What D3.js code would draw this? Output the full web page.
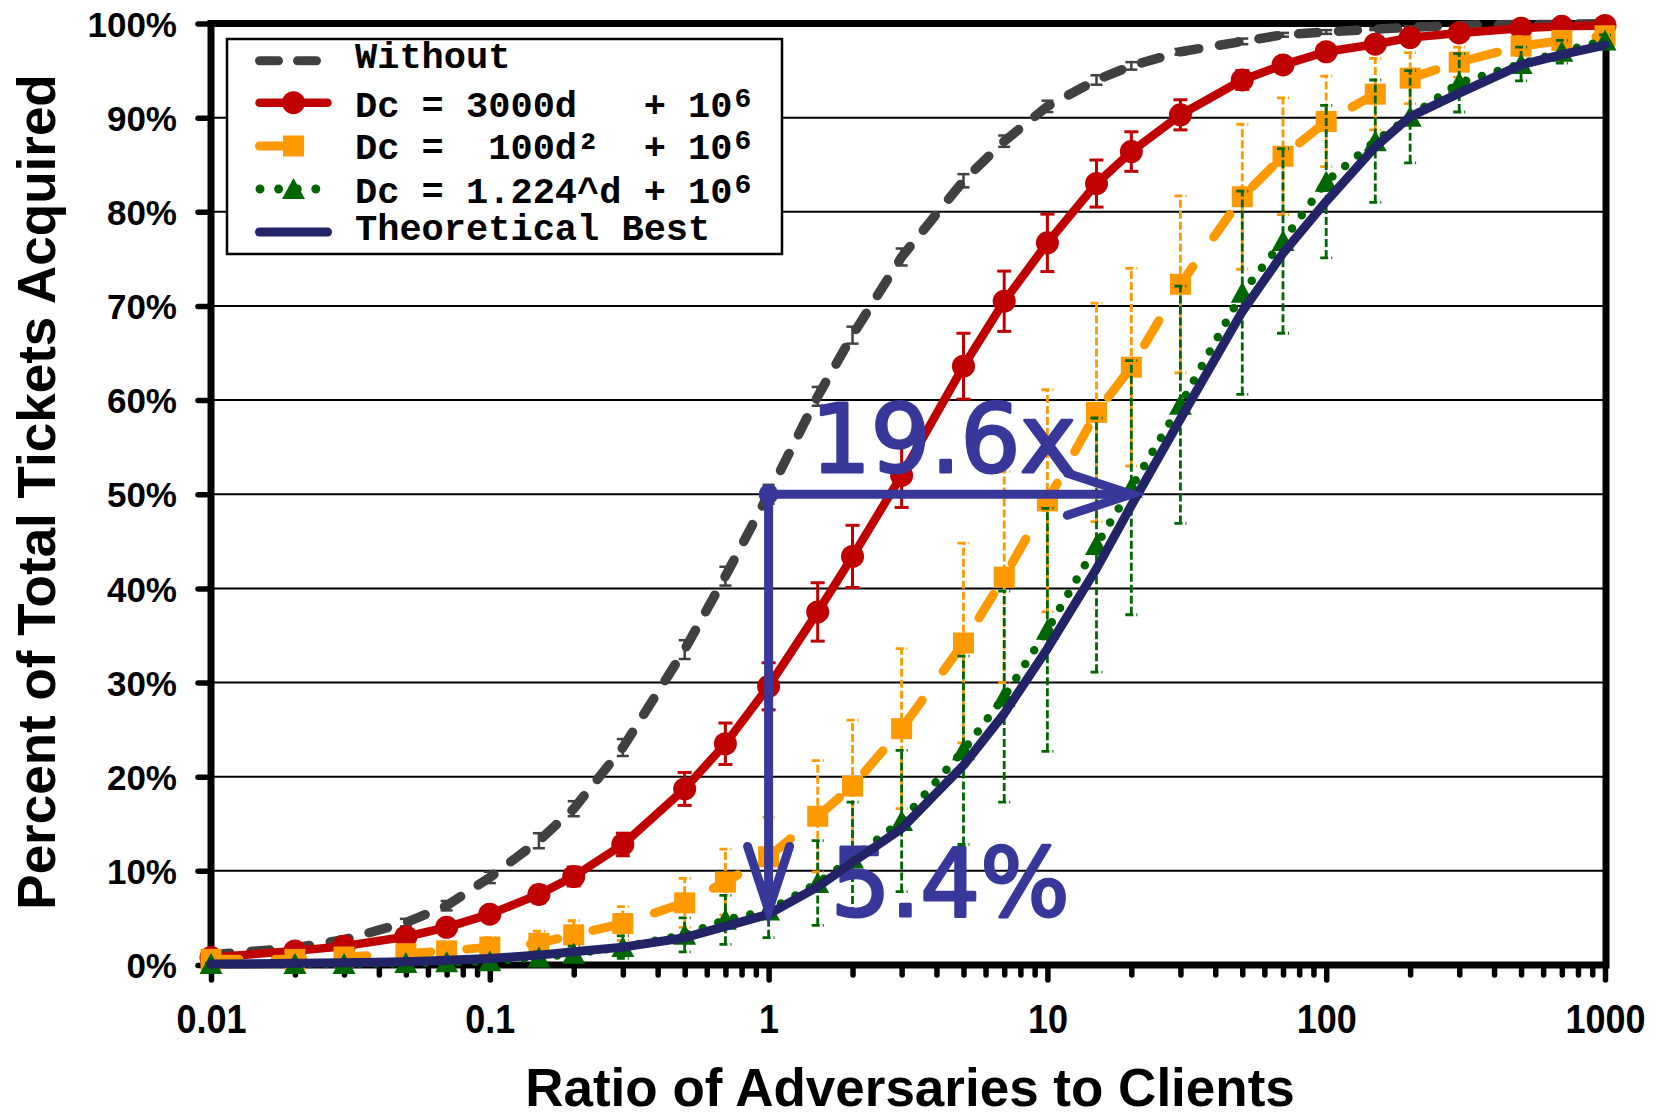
<!DOCTYPE html>
<html><head><meta charset="utf-8">
<script src="https://cdn.jsdelivr.net/npm/d3@7"></script>
<style>body{margin:0;background:#fff}</style>
</head><body>
<svg id="c" width="1658" height="1117" xmlns="http://www.w3.org/2000/svg"></svg>
<script>
// ---------- data ----------
const ratios = [0.01,0.02,0.03,0.05,0.07,0.1,0.15,0.2,0.3,0.5,0.7,1,1.5,2,3,5,7,10,15,20,30,50,70,100,150,200,300,500,700,1000];
const withoutPct = [1.1,1.8,2.7,4.5,6.3,9.3,13.2,16.6,23.1,33.5,41.3,50.0,60.4,66.9,75.2,83.3,87.5,91.2,94.0,95.5,97.0,98.1,98.8,99.1,99.4,99.6,99.8,99.9,99.9,100];
const withoutErr = [0.2,0.3,0.3,0.4,0.5,0.6,0.8,0.8,0.9,1.0,1.0,1.0,1.0,0.9,0.9,0.7,0.6,0.6,0.5,0.4,0.3,0.3,0.2,0.2,0.1,0.1,0.1,0.1,0.1,0.1];
const linearPct = [0.8,1.5,2.0,3.0,4.0,5.4,7.5,9.4,12.8,18.7,23.5,29.6,37.5,43.4,52.0,63.6,70.5,76.7,83.0,86.4,90.3,94.0,95.6,97.0,97.8,98.5,99.0,99.5,99.7,99.8];
const linearErr = [0.2,0.3,0.4,0.5,0.6,0.7,0.9,1.0,1.2,1.75,2.2,2.5,3.1,3.3,3.4,3.5,3.2,3.05,2.5,2.1,1.6,1.0,0.7,0.5,0.4,0.3,0.2,0.1,0.1,0.1];
const quadPct = [0.6,0.6,0.85,1.2,1.5,1.9,2.3,3.2,4.4,6.6,8.8,11.5,15.8,19.0,25.1,34.2,41.2,49.3,58.7,63.5,72.3,81.6,85.9,89.6,92.5,94.2,95.9,97.6,98.2,98.7];
const quadErr = [0.3,0.4,0.5,0.7,0.8,1.0,1.3,1.5,1.8,2.6,3.5,4.2,5.9,7.0,8.5,10.6,11.2,11.8,11.6,10.5,9.4,7.7,6.2,4.8,3.8,2.7,1.6,1.0,0.7,0.5];
const expPct = [0.1,0.1,0.1,0.2,0.3,0.4,0.8,1.2,1.9,3.2,4.8,5.8,8.7,11.3,15.3,22.8,28.5,35.6,44.6,50.7,59.5,71.4,76.9,83.2,87.5,90.1,93.7,95.7,97.0,98.2];
const expErr = [0.1,0.1,0.1,0.2,0.3,0.4,0.6,0.8,1.2,1.8,2.6,2.9,4.5,6.0,7.5,10.0,11.2,12.9,13.5,13.5,12.6,10.8,9.8,8.1,6.5,4.9,3.1,1.8,1.2,0.6];
const bestPct = [0.1,0.18,0.25,0.35,0.5,0.7,1.05,1.4,1.9,2.9,4.1,5.4,8.3,10.9,14.5,21.2,26.7,33.6,42.1,48.8,58.0,69.4,75.6,81.1,86.9,90.1,92.6,95.6,96.7,97.7];

const yTickValues = [0,10,20,30,40,50,60,70,80,90,100];
const xMajorTicks = [0.01,0.1,1,10,100,1000];
const xTickLabels = ["0.01","0.1","1","10","100","1000"];
const legendLabels = [
  ["Without", null],
  ["Dc = 3000d   + 10", "6"],
  ["Dc =  100d\u00B2  + 10", "6"],
  ["Dc = 1.224^d + 10", "6"],
  ["Theoretical Best", null]
];
const annoStart = [1, 50];
const annoHEnd = [20, 50];
const annoVEnd = [1, 5.8];
const annoTexts = [{t:"19.6x", r:1.42, v:52.4}, {t:"5.4%", r:1.67, v:5.2}];

// ---------- styles ----------
const C = {gray:"#404040", red:"#C00000", orange:"#FF9900", green:"#006600", navy:"#232368", anno:"#38389A"};

const svg = d3.select('#c');
const x = d3.scaleLog().domain([0.01,1000]).range([211,1605]);
const y = d3.scaleLinear().domain([0,100]).range([965,23.5]);

// gridlines
svg.append('g').selectAll('line').data(yTickValues.filter(v=>v>0&&v<100)).join('line')
  .attr('x1',x(0.01)).attr('x2',x(1000)).attr('y1',d=>y(d)).attr('y2',d=>y(d))
  .attr('stroke','#000').attr('stroke-width',2);

// y axis ticks + labels
const yAx = svg.append('g').attr('transform',`translate(${x(0.01)},0)`)
  .call(d3.axisLeft(y).tickValues(yTickValues).tickFormat(d=>d+'%').tickSize(13).tickPadding(21));
yAx.select('.domain').remove();
yAx.selectAll('.tick line').attr('stroke','#000').attr('stroke-width',5.5).attr('stroke-linecap','round');
yAx.selectAll('.tick text').attr('fill','#000').attr('font-family','"Liberation Sans", Arial, sans-serif')
  .attr('font-weight','bold').attr('font-size',35).attr('dy','0.36em');

// x axis minor + major ticks
const minor = [];
for (let e=-2;e<3;e++) for (let m=2;m<=9;m++) minor.push(m*Math.pow(10,e));
const xMin = svg.append('g').attr('transform',`translate(0,${y(0)})`)
  .call(d3.axisBottom(x).tickValues(minor).tickFormat('').tickSize(10));
xMin.select('.domain').remove();
xMin.selectAll('.tick line').attr('stroke','#000').attr('stroke-width',5.5).attr('stroke-linecap','round');
const xAx = svg.append('g').attr('transform',`translate(0,${y(0)})`)
  .call(d3.axisBottom(x).tickValues(xMajorTicks).tickFormat((d,i)=>xTickLabels[i]).tickSize(15));
xAx.select('.domain').remove();
xAx.selectAll('.tick line').attr('stroke','#000').attr('stroke-width',5.5).attr('stroke-linecap','round');
xAx.selectAll('.tick text').attr('fill','#000').attr('font-family','"Liberation Sans", Arial, sans-serif')
  .attr('font-weight','bold').attr('font-size',40).attr('y',68).attr('dy',0)
  .attr('transform','scale(0.9,1)');

// frame
svg.append('rect').attr('x',x(0.01)).attr('y',y(100)).attr('width',x(1000)-x(0.01)+1).attr('height',y(0)-y(100))
  .attr('fill','none').attr('stroke','#000').attr('stroke-width',7);

// axis titles
svg.append('text').attr('transform','translate(55,492) rotate(-90)').attr('text-anchor','middle')
  .attr('font-family','"Liberation Sans", Arial, sans-serif').attr('font-weight','bold').attr('font-size',53)
  .text('Percent of Total Tickets Acquired');
svg.append('text').attr('x',910).attr('y',1106).attr('text-anchor','middle')
  .attr('font-family','"Liberation Sans", Arial, sans-serif').attr('font-weight','bold').attr('font-size',53)
  .text('Ratio of Adversaries to Clients');

// ---------- series ----------
const line = d3.line().x(d=>x(d[0])).y(d=>y(d[1]));
function pts(vals){ return ratios.map((r,i)=>[r, vals[i]]); }
function errbars(vals, errs, color, w, cap, dash){
  const g = svg.append('g').attr('stroke',color).attr('stroke-width',w).attr('fill','none');
  if (dash) g.attr('stroke-dasharray',dash);
  ratios.forEach((r,i)=>{
    const lo = Math.max(0, vals[i]-errs[i]), hi = Math.min(100, vals[i]+errs[i]);
    g.append('line').attr('x1',x(r)).attr('x2',x(r)).attr('y1',y(lo)).attr('y2',y(hi));
    g.append('line').attr('x1',x(r)-cap/2).attr('x2',x(r)+cap/2).attr('y1',y(lo)).attr('y2',y(lo));
    g.append('line').attr('x1',x(r)-cap/2).attr('x2',x(r)+cap/2).attr('y1',y(hi)).attr('y2',y(hi));
  });
}
function path(vals, color, w, dash){
  const p = svg.append('path').datum(pts(vals)).attr('d',line).attr('fill','none')
    .attr('stroke',color).attr('stroke-width',w).attr('stroke-linecap','round').attr('stroke-linejoin','round');
  if (dash) p.attr('stroke-dasharray',dash);
}
function circles(vals,color){
  svg.append('g').selectAll('circle').data(pts(vals)).join('circle')
    .attr('cx',d=>x(d[0])).attr('cy',d=>y(d[1])).attr('r',11.5).attr('fill',color);
}
function squares(vals,color){
  svg.append('g').selectAll('rect').data(pts(vals)).join('rect')
    .attr('x',d=>x(d[0])-10.5).attr('y',d=>y(d[1])-10.5).attr('width',21).attr('height',21).attr('fill',color);
}
function tri(cx,cy){ return `M${cx},${cy-11}L${cx+11.5},${cy+10}L${cx-11.5},${cy+10}Z`; }
function triangles(vals,color){
  svg.append('g').selectAll('path').data(pts(vals)).join('path')
    .attr('d',d=>tri(x(d[0]),y(d[1]))).attr('fill',color);
}

// Without
errbars(withoutPct, withoutErr, C.gray, 2.5, 12, null);
path(withoutPct, C.gray, 9.5, '19,21');
// linear
errbars(linearPct, linearErr, C.red, 3, 14, null);
path(linearPct, C.red, 8.5, null);
circles(linearPct, C.red);
// quadratic
errbars(quadPct, quadErr, C.orange, 2.8, 12, '8,3');
path(quadPct, C.orange, 9, '28,36');
squares(quadPct, C.orange);
// exponential
errbars(expPct, expErr, C.green, 2.8, 12, '8,3');
path(expPct, C.green, 8.5, '0,16.5');
triangles(expPct, C.green);

// annotation text (under the theoretical line)
annoTexts.forEach(a=>{
  svg.append('text').attr('x',x(a.r)).attr('y',y(a.v)).attr('fill',C.anno)
    .attr('stroke',C.anno).attr('stroke-width',3).attr('stroke-linejoin','round')
    .attr('font-family','"DejaVu Sans", Verdana, sans-serif').attr('font-size',94).text(a.t);
});

// theoretical best
path(bestPct, C.navy, 9, null);

// ---------- legend ----------
const lg = svg.append('g');
lg.append('rect').attr('x',227).attr('y',39).attr('width',555).attr('height',215)
  .attr('fill','#fff').attr('stroke','#000').attr('stroke-width',2.5);
const symY = [60.7,102.7,146,189,232];
const txtY = [68,117,159,203,240];
const sx0 = 259.5, sx1 = 327.5, smid = 293.5;
// gray
lg.append('line').attr('x1',sx0).attr('x2',sx1).attr('y1',symY[0]).attr('y2',symY[0]).attr('stroke',C.gray)
  .attr('stroke-width',9).attr('stroke-linecap','round').attr('stroke-dasharray','19,19');
// red
lg.append('line').attr('x1',sx0).attr('x2',sx1).attr('y1',symY[1]).attr('y2',symY[1]).attr('stroke',C.red)
  .attr('stroke-width',8.5).attr('stroke-linecap','round');
lg.append('circle').attr('cx',smid).attr('cy',symY[1]).attr('r',11.5).attr('fill',C.red);
// orange
lg.append('line').attr('x1',sx0).attr('x2',326.5).attr('y1',symY[2]).attr('y2',symY[2]).attr('stroke',C.orange)
  .attr('stroke-width',9).attr('stroke-linecap','round').attr('stroke-dasharray','40,27,0,100');
lg.append('rect').attr('x',smid-10.5).attr('y',symY[2]-10.5).attr('width',21).attr('height',21).attr('fill',C.orange);
// green
lg.append('line').attr('x1',260).attr('x2',316).attr('y1',symY[3]).attr('y2',symY[3]).attr('stroke',C.green)
  .attr('stroke-width',9).attr('stroke-linecap','round').attr('stroke-dasharray','0,18.6');
lg.append('path').attr('d',tri(smid,symY[3])).attr('fill',C.green);
// navy
lg.append('line').attr('x1',sx0).attr('x2',sx1).attr('y1',symY[4]).attr('y2',symY[4]).attr('stroke',C.navy)
  .attr('stroke-width',9).attr('stroke-linecap','round');
legendLabels.forEach((lab,i)=>{
  const t = lg.append('text').attr('x',355).attr('y',txtY[i]).attr('fill','#000')
    .attr('font-family','"Liberation Mono", "Courier New", monospace').attr('font-weight','bold')
    .attr('font-size',37).style('white-space','pre');
  t.append('tspan').text(lab[0]);
  if (lab[1]) t.append('tspan').attr('font-size',28).attr('dx',2).attr('dy',-10).text(lab[1]);
});

// ---------- arrows ----------
const ag = svg.append('g').attr('stroke',C.anno).attr('stroke-width',9).attr('stroke-linecap','round').attr('fill','none');
const sx = x(annoStart[0]), sy = y(annoStart[1]);
const hx = x(annoHEnd[0]), hy = y(annoHEnd[1]);
const vx = x(annoVEnd[0]), vy = y(annoVEnd[1]);
ag.append('line').attr('x1',sx).attr('y1',sy).attr('x2',hx).attr('y2',hy);
ag.append('path').attr('d',`M${hx-64},${hy-21}L${hx},${hy}L${hx-64},${hy+21}`).attr('stroke-linejoin','miter');
ag.append('line').attr('x1',sx).attr('y1',sy).attr('x2',vx).attr('y2',vy);
ag.append('path').attr('d',`M${vx-21},${vy-64}L${vx},${vy}L${vx+21},${vy-64}`).attr('stroke-linejoin','miter');
svg.append('circle').attr('cx',sx).attr('cy',sy).attr('r',10).attr('fill',C.anno);
</script>
</body></html>
